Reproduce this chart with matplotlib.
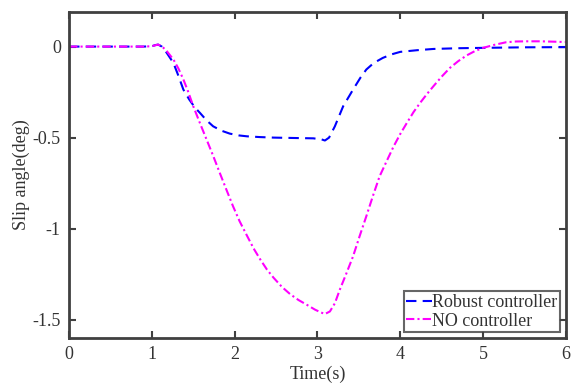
import matplotlib
matplotlib.use('Agg')
import matplotlib.pyplot as plt
import numpy as np

plt.rcParams['font.family'] = ['Liberation Serif', 'DejaVu Serif']

# Robust controller
t_robust = [0.0, 0.5, 0.9, 1.0, 1.04, 1.075, 1.12, 1.18, 1.26, 1.32, 1.38, 1.45, 1.52, 1.58,
            1.66, 1.74, 1.84, 1.94, 2.05, 2.15, 2.3, 2.47, 2.7, 2.95, 3.05, 3.09, 3.14,
            3.21, 3.31, 3.43, 3.52, 3.59, 3.68, 3.79, 3.9, 4.0, 4.2, 4.4, 4.7, 5.0, 5.5, 6.0]
y_robust = [0.0, 0.0, 0.0, 0.002, 0.008, 0.011, 0.0, -0.035, -0.09, -0.16, -0.236, -0.29, -0.335, -0.364,
            -0.405, -0.438, -0.462, -0.478, -0.488, -0.493, -0.497, -0.5, -0.502, -0.504, -0.51, -0.516, -0.5,
            -0.438, -0.328, -0.236, -0.17, -0.126, -0.09, -0.062, -0.042, -0.029, -0.02, -0.013, -0.009, -0.007, -0.004, -0.003]

# NO controller
t_none = [0.0, 0.5, 0.9, 1.0, 1.04, 1.075, 1.12, 1.18, 1.26, 1.32, 1.38, 1.44, 1.5, 1.58,
          1.66, 1.74, 1.82, 1.9, 1.98, 2.06, 2.15, 2.23, 2.31, 2.39, 2.47, 2.57, 2.67, 2.77,
          2.87, 2.97, 3.04, 3.09, 3.15, 3.21, 3.27, 3.35, 3.43, 3.51, 3.59, 3.67, 3.75, 3.84,
          3.92, 4.0, 4.08, 4.16, 4.24, 4.32, 4.4, 4.5, 4.6, 4.7, 4.8, 4.9, 5.0, 5.14, 5.28, 5.4,
          5.53, 5.7, 5.85, 6.0]
y_none = [0.0, 0.0, 0.0, 0.002, 0.007, 0.011, 0.002, -0.025, -0.071, -0.12, -0.18, -0.25, -0.328, -0.42,
          -0.51, -0.6, -0.694, -0.786, -0.877, -0.96, -1.04, -1.11, -1.17, -1.225, -1.27, -1.32, -1.36, -1.392,
          -1.418, -1.445, -1.46, -1.469, -1.455, -1.41, -1.335, -1.245, -1.152, -1.04, -0.932, -0.82, -0.713, -0.625,
          -0.548, -0.48, -0.419, -0.36, -0.309, -0.262, -0.218, -0.165, -0.117, -0.08, -0.049, -0.025, -0.007, 0.01, 0.024, 0.028,
          0.029, 0.029, 0.027, 0.025]

fig = plt.figure(figsize=(5.71, 3.87), dpi=100)
ax = fig.add_axes([0.121, 0.127, 0.870, 0.842])

ax.plot(t_robust, y_robust, color='blue', ls=(0, (5, 3)), lw=1.5, label='Robust controller')
ax.plot(t_none, y_none, color='magenta', ls=(0, (4, 1.5, 1, 1.5)), lw=1.5, label='NO controller')

ax.set_xlim(0, 6)
ax.set_ylim(-1.6, 0.19)
ax.set_xticks(range(7))
ax.set_yticks([-1.5, -1, -0.5, 0])
ax.set_yticklabels(['-1.5', '-1', '-0.5', '0'])

grey = '#404040'
txtc = '#333333'
for sp in ax.spines.values():
    sp.set_color(grey)
    sp.set_linewidth(2)
ax.tick_params(direction='in', top=True, right=True, length=5, width=1.5, color=grey,
               labelsize=13, labelcolor=txtc, pad=6)

ax.set_xlabel('Time(s)', fontsize=13, color=txtc, labelpad=2)
ax.set_ylabel('Slip angle(deg)', fontsize=13, color=txtc, labelpad=2)

leg = ax.legend(loc='lower right', fontsize=13, frameon=True, fancybox=False,
                handlelength=1.4, handletextpad=0.05, borderpad=0.15, labelspacing=0.1,
                borderaxespad=0.3)
leg.get_frame().set_edgecolor(grey)
leg.get_frame().set_linewidth(1.5)
for txt in leg.get_texts():
    txt.set_color(txtc)

plt.savefig('out.png', dpi=100)
